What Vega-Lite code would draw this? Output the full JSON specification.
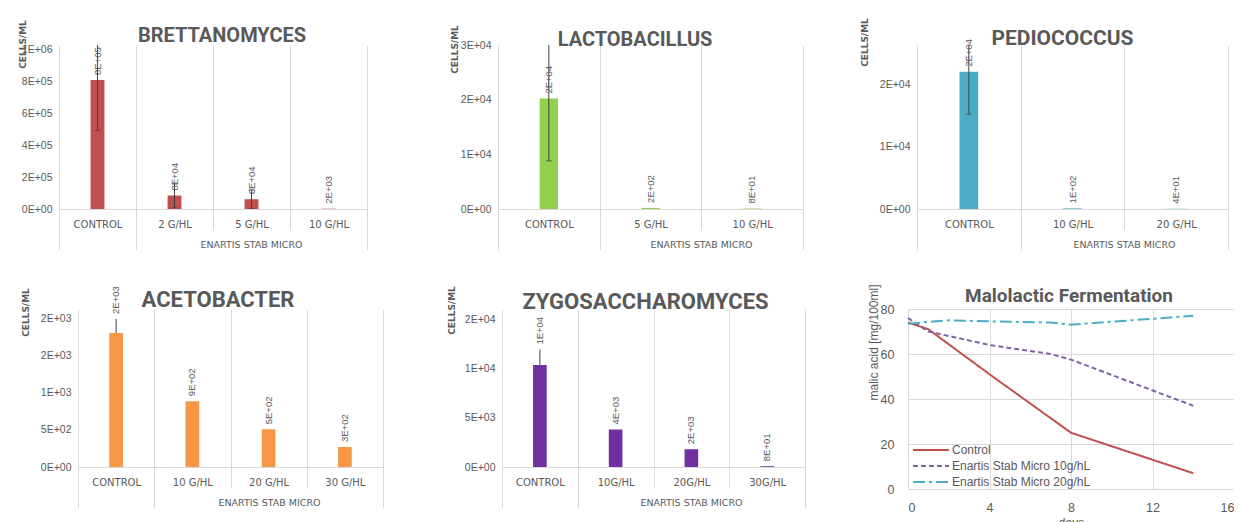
{
  "$schema": "https://vega.github.io/schema/vega-lite/v6.json",
  "background": "white",
  "padding": {"left": 17, "top": 17, "right": 0, "bottom": 0},
  "spacing": 32,
  "resolve": {"legend": {"color": "independent", "strokeDash": "independent"}},
  "config": {
    "view": {"stroke": null},
    "font": "Liberation Sans",
    "title": {"font": "Roboto", "fontSize": 20, "fontWeight": "bold", "color": "#595959", "frame": "group", "anchor": "middle", "offset": 0},
    "axisX": {"labelAngle": 0, "labelFont": "DejaVu Sans", "labelFontSize": 10, "labelColor": "#595959", "labelBaseline": "middle", "domainColor": "#d9d9d9", "tickColor": "#d9d9d9", "gridColor": "#d9d9d9", "grid": true, "tickBand": "extent", "titleFont": "DejaVu Sans", "titleFontSize": 9.5, "titleFontWeight": "normal", "titleColor": "#595959", "titleBaseline": "middle", "titleAlign": "center"},
    "axisY": {"domain": false, "ticks": false, "grid": false, "labelOverlap": false, "labelFont": "Liberation Sans", "labelFontSize": 10.5, "labelColor": "#595959", "labelPadding": 7, "titleFont": "DejaVu Sans", "titleFontSize": 9, "titleFontWeight": "bold", "titleColor": "#595959", "titleAngle": 270, "titleAlign": "center", "titleBaseline": "bottom"},
    "text": {"font": "Liberation Sans", "fontSize": 9.5, "color": "#595959"}
  },
  "vconcat": [
    {
      "bounds": "flush",
      "spacing": 114,
      "resolve": {"legend": {"color": "independent", "strokeDash": "independent"}},
      "hconcat": [
        {
          "width": 308, "height": 164,
          "title": {"text": "BRETTANOMYCES", "dx": 9, "dy": 30},
          "data": {"values": [
            {"treatment": "CONTROL", "cells": 806000, "lo": 490000, "hi": 1120000},
            {"treatment": "2 G/HL", "cells": 84000, "lo": 8000, "hi": 162000},
            {"treatment": "5 G/HL", "cells": 61000, "lo": 2000, "hi": 120000},
            {"treatment": "10 G/HL", "cells": 2000}
          ]},
          "transform": [
            {"calculate": "replace(upper(format(datum.cells, '.0e')), '+', '+0')", "as": "label"},
            {"calculate": "datum.lo == datum.cells ? datum.hi : datum.cells", "as": "labelAt"}
          ],
          "encoding": {"x": {"field": "treatment", "type": "nominal", "sort": null, "scale": {"paddingInner": 0, "paddingOuter": 0},
            "axis": {"title": "ENARTIS STAB MICRO", "titleX": 192, "titleY": 35,
              "tickSize": {"condition": {"test": "datum.index < 0.1 || datum.index > 0.9", "value": 41}, "value": 21},
              "labelPadding": {"condition": {"test": "datum.index < 0.1 || datum.index > 0.9", "value": -26}, "value": -6}}}},
          "layer": [
            {"mark": {"type": "bar", "width": {"band": 0.18}, "color": "#c0504d"},
             "encoding": {"y": {"field": "cells", "type": "quantitative", "scale": {"domain": [0, 1025000], "nice": false},
               "axis": {"values": [0, 200000, 400000, 600000, 800000, 1000000], "tickCount": 20, "labelOverlap": false, "labelExpr": "replace(upper(format(datum.value, '.0e')), '+', '+0')", "title": "CELLS/ML", "titleX": -32, "titleY": -1}}}},
            {"mark": {"type": "rule", "color": "#404040", "clip": true}, "encoding": {"y": {"field": "lo", "type": "quantitative"}, "y2": {"field": "hi"}}},
            {"transform": [{"filter": "datum.lo < datum.cells"}], "mark": {"type": "tick", "color": "#404040", "size": 6, "thickness": 1, "clip": true}, "encoding": {"y": {"field": "lo", "type": "quantitative"}}},
            {"mark": {"type": "tick", "color": "#404040", "size": 6, "thickness": 1, "clip": true}, "encoding": {"y": {"field": "hi", "type": "quantitative"}}},
            {"mark": {"type": "text", "angle": 270, "align": "left", "baseline": "middle", "dx": 5}, "encoding": {"y": {"field": "labelAt", "type": "quantitative"}, "text": {"field": "label"}}}
          ]
        },
        {
          "width": 322, "height": 164,
          "title": {"text": "LACTOBACILLUS", "dx": -7, "dy": 29},
          "data": {"values": [
            {"treatment": "CONTROL", "cells": 20200, "lo": 8800, "hi": 31600},
            {"treatment": "5 G/HL", "cells": 200},
            {"treatment": "10 G/HL", "cells": 80}
          ]},
          "transform": [
            {"calculate": "replace(upper(format(datum.cells, '.0e')), '+', '+0')", "as": "label"},
            {"calculate": "datum.lo == datum.cells ? datum.hi : datum.cells", "as": "labelAt"}
          ],
          "encoding": {"x": {"field": "treatment", "type": "nominal", "sort": null, "scale": {"paddingInner": 0, "paddingOuter": 0, "range": [17, 322]},
            "axis": {"title": "ENARTIS STAB MICRO", "titleX": 220, "titleY": 35,
              "tickSize": {"condition": {"test": "datum.index < 0.1 || datum.index > 0.9", "value": 41}, "value": 21},
              "labelPadding": {"condition": {"test": "datum.index < 0.1 || datum.index > 0.9", "value": -26}, "value": -6}}}},
          "layer": [
            {"mark": {"type": "bar", "width": {"band": 0.18}, "color": "#92d050"},
             "encoding": {"y": {"field": "cells", "type": "quantitative", "scale": {"domain": [0, 30000], "nice": false},
               "axis": {"values": [0, 10000, 20000, 30000], "tickCount": 20, "offset": -17, "labelOverlap": false, "labelExpr": "replace(upper(format(datum.value, '.0e')), '+', '+0')", "title": "CELLS/ML", "titleX": -39, "titleY": 4}}}},
            {"mark": {"type": "rule", "color": "#404040", "clip": true}, "encoding": {"y": {"field": "lo", "type": "quantitative"}, "y2": {"field": "hi"}}},
            {"transform": [{"filter": "datum.lo < datum.cells"}], "mark": {"type": "tick", "color": "#404040", "size": 6, "thickness": 1, "clip": true}, "encoding": {"y": {"field": "lo", "type": "quantitative"}}},
            {"mark": {"type": "tick", "color": "#404040", "size": 6, "thickness": 1, "clip": true}, "encoding": {"y": {"field": "hi", "type": "quantitative"}}},
            {"mark": {"type": "text", "angle": 270, "align": "left", "baseline": "middle", "dx": 5}, "encoding": {"y": {"field": "labelAt", "type": "quantitative"}, "text": {"field": "label"}}}
          ]
        },
        {
          "width": 311, "height": 164,
          "title": {"text": "PEDIOCOCCUS", "fontSize": 21, "dx": -10, "dy": 35},
          "data": {"values": [
            {"treatment": "CONTROL", "cells": 22000, "lo": 15200, "hi": 28800},
            {"treatment": "10 G/HL", "cells": 100},
            {"treatment": "20 G/HL", "cells": 40}
          ]},
          "transform": [
            {"calculate": "replace(upper(format(datum.cells, '.0e')), '+', '+0')", "as": "label"},
            {"calculate": "datum.lo == datum.cells ? datum.hi : datum.cells", "as": "labelAt"}
          ],
          "encoding": {"x": {"field": "treatment", "type": "nominal", "sort": null, "scale": {"paddingInner": 0, "paddingOuter": 0},
            "axis": {"title": "ENARTIS STAB MICRO", "titleX": 207, "titleY": 35,
              "tickSize": {"condition": {"test": "datum.index < 0.1 || datum.index > 0.9", "value": 41}, "value": 21},
              "labelPadding": {"condition": {"test": "datum.index < 0.1 || datum.index > 0.9", "value": -26}, "value": -6}}}},
          "layer": [
            {"mark": {"type": "bar", "width": {"band": 0.18}, "color": "#4bacc6"},
             "encoding": {"y": {"field": "cells", "type": "quantitative", "scale": {"domain": [0, 26282], "nice": false},
               "axis": {"values": [0, 10000, 20000], "tickCount": 20, "labelOverlap": false, "labelExpr": "replace(upper(format(datum.value, '.0e')), '+', '+0')", "title": "CELLS/ML", "titleX": -48, "titleY": -3}}}},
            {"mark": {"type": "rule", "color": "#404040", "clip": true}, "encoding": {"y": {"field": "lo", "type": "quantitative"}, "y2": {"field": "hi"}}},
            {"transform": [{"filter": "datum.lo < datum.cells"}], "mark": {"type": "tick", "color": "#404040", "size": 6, "thickness": 1, "clip": true}, "encoding": {"y": {"field": "lo", "type": "quantitative"}}},
            {"mark": {"type": "tick", "color": "#404040", "size": 6, "thickness": 1, "clip": true}, "encoding": {"y": {"field": "hi", "type": "quantitative"}}},
            {"mark": {"type": "text", "angle": 270, "align": "left", "baseline": "middle", "dx": 5}, "encoding": {"y": {"field": "labelAt", "type": "quantitative"}, "text": {"field": "label"}}}
          ]
        }
      ]
    },
    {
      "bounds": "flush",
      "spacing": 103,
      "resolve": {"legend": {"color": "independent", "strokeDash": "independent"}},
      "hconcat": [
        {
          "width": 324, "height": 158,
          "title": {"text": "ACETOBACTER", "fontSize": 22, "dx": -3, "dy": 30},
          "data": {"values": [
            {"treatment": "CONTROL", "cells": 1810, "lo": 1810, "hi": 2000},
            {"treatment": "10 G/HL", "cells": 890},
            {"treatment": "20 G/HL", "cells": 510},
            {"treatment": "30 G/HL", "cells": 270}
          ]},
          "transform": [
            {"calculate": "replace(upper(format(datum.cells, '.0e')), '+', '+0')", "as": "label"},
            {"calculate": "datum.lo == datum.cells ? datum.hi : datum.cells", "as": "labelAt"}
          ],
          "encoding": {"x": {"field": "treatment", "type": "nominal", "sort": null, "scale": {"paddingInner": 0, "paddingOuter": 0, "range": [19, 324]},
            "axis": {"title": "ENARTIS STAB MICRO", "titleX": 210, "titleY": 35,
              "tickSize": {"condition": {"test": "datum.index < 0.1 || datum.index > 0.9", "value": 41}, "value": 21},
              "labelPadding": {"condition": {"test": "datum.index < 0.1 || datum.index > 0.9", "value": -26}, "value": -6}}}},
          "layer": [
            {"mark": {"type": "bar", "width": {"band": 0.18}, "color": "#f79646"},
             "encoding": {"y": {"field": "cells", "type": "quantitative", "scale": {"domain": [0, 2135], "nice": false},
               "axis": {"values": [0, 500, 1000, 1500, 2000], "tickCount": 20, "offset": -19, "labelOverlap": false, "labelExpr": "replace(upper(format(datum.value, '.0e')), '+', '+0')", "title": "CELLS/ML", "titleX": -48, "titleY": 3}}}},
            {"mark": {"type": "rule", "color": "#404040", "clip": true}, "encoding": {"y": {"field": "lo", "type": "quantitative"}, "y2": {"field": "hi"}}},
            {"mark": {"type": "text", "angle": 270, "align": "left", "baseline": "middle", "dx": 5}, "encoding": {"y": {"field": "labelAt", "type": "quantitative"}, "text": {"field": "label"}}}
          ]
        },
        {
          "width": 319, "height": 158,
          "title": {"text": "ZYGOSACCHAROMYCES", "fontSize": 22, "dx": 0, "dy": 32},
          "data": {"values": [
            {"treatment": "CONTROL", "cells": 10350, "lo": 10350, "hi": 11900},
            {"treatment": "10G/HL", "cells": 3800},
            {"treatment": "20G/HL", "cells": 1800},
            {"treatment": "30G/HL", "cells": 80}
          ]},
          "transform": [
            {"calculate": "replace(upper(format(datum.cells, '.0e')), '+', '+0')", "as": "label"},
            {"calculate": "datum.lo == datum.cells ? datum.hi : datum.cells", "as": "labelAt"}
          ],
          "encoding": {"x": {"field": "treatment", "type": "nominal", "sort": null, "scale": {"paddingInner": 0, "paddingOuter": 0, "range": [16, 319]},
            "axis": {"title": "ENARTIS STAB MICRO", "titleX": 205, "titleY": 35,
              "tickSize": {"condition": {"test": "datum.index < 0.1 || datum.index > 0.9", "value": 41}, "value": 21},
              "labelPadding": {"condition": {"test": "datum.index < 0.1 || datum.index > 0.9", "value": -26}, "value": -6}}}},
          "layer": [
            {"mark": {"type": "bar", "width": {"band": 0.18}, "color": "#7030a0"},
             "encoding": {"y": {"field": "cells", "type": "quantitative", "scale": {"domain": [0, 16014], "nice": false},
               "axis": {"values": [0, 5000, 10000, 15000], "tickCount": 20, "offset": -16, "labelOverlap": false, "labelExpr": "replace(upper(format(datum.value, '.0e')), '+', '+0')", "title": "CELLS/ML", "titleX": -46, "titleY": 1}}}},
            {"mark": {"type": "rule", "color": "#404040", "clip": true}, "encoding": {"y": {"field": "lo", "type": "quantitative"}, "y2": {"field": "hi"}}},
            {"mark": {"type": "text", "angle": 270, "align": "left", "baseline": "middle", "dx": 5}, "encoding": {"y": {"field": "labelAt", "type": "quantitative"}, "text": {"field": "label"}}}
          ]
        },
        {
          "width": 326, "height": 180,
          "title": {"text": "Malolactic Fermentation", "fontSize": 19, "dx": -2, "dy": 26},
          "data": {"values": [
            {"day": 0, "malic": 74, "series": "Control"},
            {"day": 1, "malic": 71, "series": "Control"},
            {"day": 4, "malic": 51, "series": "Control"},
            {"day": 8, "malic": 25, "series": "Control"},
            {"day": 14, "malic": 7, "series": "Control"},
            {"day": 0, "malic": 76, "series": "Enartis Stab Micro 10g/hL"},
            {"day": 1, "malic": 70, "series": "Enartis Stab Micro 10g/hL"},
            {"day": 4, "malic": 64, "series": "Enartis Stab Micro 10g/hL"},
            {"day": 7, "malic": 60, "series": "Enartis Stab Micro 10g/hL"},
            {"day": 8, "malic": 57.5, "series": "Enartis Stab Micro 10g/hL"},
            {"day": 14, "malic": 37, "series": "Enartis Stab Micro 10g/hL"},
            {"day": 0, "malic": 73.5, "series": "Enartis Stab Micro 20g/hL"},
            {"day": 2, "malic": 75, "series": "Enartis Stab Micro 20g/hL"},
            {"day": 4, "malic": 74.5, "series": "Enartis Stab Micro 20g/hL"},
            {"day": 7, "malic": 74, "series": "Enartis Stab Micro 20g/hL"},
            {"day": 8, "malic": 73, "series": "Enartis Stab Micro 20g/hL"},
            {"day": 14, "malic": 77, "series": "Enartis Stab Micro 20g/hL"}
          ]},
          "mark": {"type": "line", "strokeWidth": 2},
          "encoding": {
            "x": {"field": "day", "type": "quantitative", "scale": {"domain": [0, 16], "nice": false},
              "axis": {"values": [0, 4, 8, 12, 16], "title": "days", "grid": true, "domain": false, "ticks": false, "labelFont": "Liberation Sans", "labelFontSize": 12.5, "labelBaseline": "top", "labelPadding": 12, "titleFont": "Liberation Sans", "titleFontSize": 12, "titleY": 28, "titleX": 163, "titleBaseline": "top"}},
            "y": {"field": "malic", "type": "quantitative", "scale": {"domain": [0, 80], "nice": false},
              "axis": {"values": [0, 20, 40, 60, 80], "tickCount": 20, "grid": true, "gridColor": "#d9d9d9", "labelFontSize": 12.5, "labelPadding": 14, "title": "malic acid [mg/100ml]", "titleFont": "Liberation Sans", "titleFontSize": 12, "titleFontWeight": "normal", "titleX": -28, "titleY": 33}},
            "color": {"field": "series", "type": "nominal", "scale": {"domain": ["Control", "Enartis Stab Micro 10g/hL", "Enartis Stab Micro 20g/hL"], "range": ["#c0504d", "#8064a2", "#4bacc6"]},
              "legend": {"orient": "none", "legendX": 16, "legendY": 134, "title": null, "symbolType": "M-3,0H3", "symbolSize": 144, "symbolStrokeWidth": 2, "labelFont": "Liberation Sans", "labelFontSize": 12, "labelColor": "#595959", "labelOffset": 14, "rowPadding": 3, "padding": 0}},
            "strokeDash": {"field": "series", "type": "nominal", "scale": {"domain": ["Control", "Enartis Stab Micro 10g/hL", "Enartis Stab Micro 20g/hL"], "range": [[1, 0], [5, 3], [12, 4, 3, 4]]},
              "legend": {"orient": "none", "legendX": 16, "legendY": 134, "title": null, "symbolType": "M-3,0H3", "symbolSize": 144, "symbolStrokeWidth": 2, "labelFont": "Liberation Sans", "labelFontSize": 12, "labelColor": "#595959", "labelOffset": 14, "rowPadding": 3, "padding": 0}}
          }
        }
      ]
    }
  ]
}
